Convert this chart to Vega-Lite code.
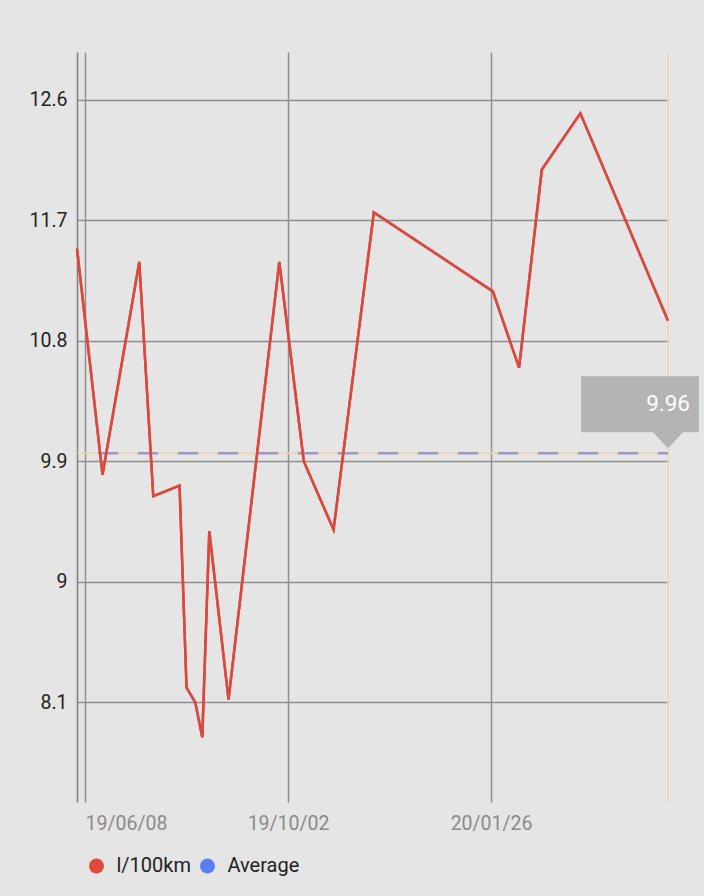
{
  "$schema": "https://vega.github.io/schema/vega-lite/v6.json",
  "width": 591,
  "height": 750,
  "autosize": {"type": "none"},
  "padding": {"left": 77, "top": 52, "right": 36, "bottom": 94},
  "background": "#e5e5e5",
  "config": {
    "font": "Roboto",
    "view": {"stroke": null},
    "axis": {"title": null}
  },
  "datasets": {
    "consumption": [
      {"date": "2019-06-03T10:00:00Z", "value": 11.49},
      {"date": "2019-06-18T00:00:00Z", "value": 9.80},
      {"date": "2019-07-09T00:00:00Z", "value": 11.39},
      {"date": "2019-07-17T00:00:00Z", "value": 9.64},
      {"date": "2019-08-01T00:00:00Z", "value": 9.72},
      {"date": "2019-08-05T00:00:00Z", "value": 8.21},
      {"date": "2019-08-10T00:00:00Z", "value": 8.10},
      {"date": "2019-08-14T00:00:00Z", "value": 7.84},
      {"date": "2019-08-18T00:00:00Z", "value": 9.38},
      {"date": "2019-08-29T00:00:00Z", "value": 8.12},
      {"date": "2019-09-27T00:00:00Z", "value": 11.39},
      {"date": "2019-10-11T00:00:00Z", "value": 9.90},
      {"date": "2019-10-28T00:00:00Z", "value": 9.39},
      {"date": "2019-11-20T00:00:00Z", "value": 11.76},
      {"date": "2020-01-27T00:00:00Z", "value": 11.17},
      {"date": "2020-02-11T00:00:00Z", "value": 10.60},
      {"date": "2020-02-24T00:00:00Z", "value": 12.08},
      {"date": "2020-03-17T00:00:00Z", "value": 12.50},
      {"date": "2020-05-06T02:00:00Z", "value": 10.95}
    ],
    "average": [
      {"date": "2020-05-06T02:00:00Z", "value": 9.96}
    ]
  },
  "layer": [
    {
      "data": {"name": "consumption"},
      "mark": {"type": "line", "strokeWidth": 2.5, "interpolate": "linear"},
      "encoding": {
        "x": {
          "field": "date",
          "type": "temporal",
          "scale": {"type": "utc", "nice": false},
          "axis": {
            "title": null,
            "values": [
              {"year": 2019, "month": 6, "date": 8, "utc": true},
              {"year": 2019, "month": 10, "date": 2, "utc": true},
              {"year": 2020, "month": 1, "date": 26, "utc": true}
            ],
            "format": "%y/%m/%d",
            "domain": false,
            "ticks": false,
            "grid": true,
            "gridColor": "#8e8e8e",
            "gridWidth": 1.5,
            "labelColor": "#8a8a8a",
            "labelFont": "Roboto",
            "labelFontSize": 19.5,
            "labelPadding": 12,
            "labelAlign": {
              "condition": {"test": "datum.value < utc(2019, 5, 20)", "value": "left"},
              "value": "center"
            }
          }
        },
        "y": {
          "field": "value",
          "type": "quantitative",
          "scale": {"domain": [7.356, 12.958], "nice": false, "zero": false},
          "axis": {
            "title": null,
            "values": [8.1, 9, 9.9, 10.8, 11.7, 12.6],
            "format": ".2~f",
            "domain": true,
            "domainColor": "#7e7e7e",
            "domainWidth": 1.5,
            "ticks": false,
            "grid": true,
            "gridColor": "#8e8e8e",
            "gridWidth": 1.5,
            "labelColor": "#222222",
            "labelFont": "Roboto",
            "labelFontSize": 19.5,
            "labelPadding": 10
          }
        },
        "color": {
          "datum": "l/100km",
          "scale": {"domain": ["l/100km", "Average"], "range": ["#e04a3d", "#5a7df5"]},
          "legend": {
            "title": null,
            "orient": "none",
            "legendX": 9.5,
            "legendY": 804,
            "direction": "horizontal",
            "padding": 0,
            "symbolType": "circle",
            "symbolSize": 225,
            "symbolStrokeWidth": 0,
            "symbolOpacity": 1,
            "labelFont": "Roboto",
            "labelFontSize": 20,
            "labelColor": "#222222",
            "labelOffset": 10,
            "columnPadding": 6,
            "encode": {
              "symbols": {
                "update": {
                  "fill": {"scale": "color", "field": "value"},
                  "stroke": {"value": "transparent"},
                  "opacity": {"value": 1}
                }
              }
            }
          }
        }
      }
    },
    {
      "data": {"name": "average"},
      "mark": {"type": "rule", "color": "#f0d2b0", "strokeWidth": 1.5},
      "encoding": {
        "x": {"field": "date", "type": "temporal"}
      }
    },
    {
      "data": {"name": "average"},
      "mark": {"type": "rule", "color": "#f0d4b4", "strokeWidth": 2},
      "encoding": {
        "y": {"field": "value", "type": "quantitative"}
      }
    },
    {
      "data": {"name": "average"},
      "mark": {"type": "rule", "strokeWidth": 2.5, "strokeDash": [20, 20], "strokeDashOffset": 10},
      "encoding": {
        "y": {"field": "value", "type": "quantitative"},
        "color": {"datum": "Average"},
        "stroke": {"value": "#9c97c6"}
      }
    },
    {
      "data": {"name": "consumption"},
      "mark": {"type": "line", "strokeWidth": 2.5, "color": "#d9493d"},
      "encoding": {
        "x": {"field": "date", "type": "temporal"},
        "y": {"field": "value", "type": "quantitative"}
      }
    },
    {
      "data": {"name": "average"},
      "mark": {
        "type": "point",
        "shape": "M-87,-77 L31,-77 L31,-21 L15,-21 L0,-5 L-15,-21 L-87,-21 Z",
        "size": 4,
        "filled": true,
        "color": "#b4b4b4",
        "opacity": 1,
        "strokeWidth": 0
      },
      "encoding": {
        "x": {"field": "date", "type": "temporal"},
        "y": {"field": "value", "type": "quantitative"}
      }
    },
    {
      "data": {"name": "average"},
      "mark": {
        "type": "text",
        "align": "right",
        "baseline": "middle",
        "dx": 22,
        "dy": -49,
        "font": "Roboto",
        "fontSize": 22.5,
        "color": "#ffffff"
      },
      "encoding": {
        "x": {"field": "date", "type": "temporal"},
        "y": {"field": "value", "type": "quantitative"},
        "text": {"field": "value", "type": "quantitative", "format": ".2f"}
      }
    }
  ]
}
